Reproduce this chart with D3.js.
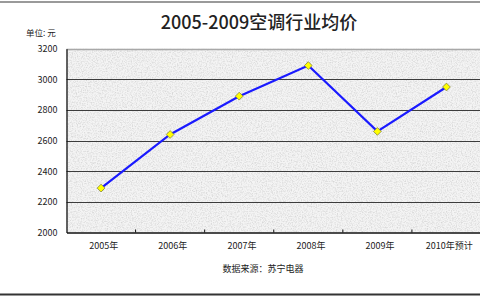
<!DOCTYPE html>
<html><head><meta charset="utf-8">
<script src="https://cdn.jsdelivr.net/npm/d3@7"></script>
<style>
html,body{margin:0;padding:0;background:#fff;}
svg{display:block;}
text{font-family:"Noto Sans CJK SC","DejaVu Sans",sans-serif;fill:#222;}
</style></head>
<body>
<script>
const categories = ["2005年","2006年","2007年","2008年","2009年","2010年预计"];
const values = [2290, 2640, 2890, 3090, 2660, 2950];
const yTicks = [2000, 2200, 2400, 2600, 2800, 3000, 3200];
const title = "2005-2009空调行业均价";
const unitLabel = "单位: 元";
const sourceLabel = "数据来源：苏宁电器";

const W = 480, H = 300;
const svg = d3.select("body").append("svg").attr("width", W).attr("height", H);

const defs = svg.append("defs");
const f = defs.append("filter").attr("id","grain").attr("x",0).attr("y",0).attr("width","100%").attr("height","100%");
f.append("feTurbulence").attr("type","fractalNoise").attr("baseFrequency",0.8).attr("numOctaves",2).attr("seed",3).attr("result","n");
f.append("feColorMatrix").attr("in","n").attr("type","matrix")
  .attr("values","0 0 0 0 0.6  0 0 0 0 0.6  0 0 0 0 0.6  0 0 0 -1.6 0.95").attr("result","c");
f.append("feComposite").attr("in","c").attr("in2","SourceGraphic").attr("operator","in");

const x0 = 66.5, x1 = 481, yTop = 48.7, yBot = 232.5;
const x = d3.scaleBand().domain(categories).range([x0, x1]);
const y = d3.scaleLinear().domain([2000, 3200]).range([yBot, yTop]);

// outer frame lines
svg.append("line").attr("x1",0).attr("x2",W).attr("y1",2).attr("y2",2).attr("stroke","#9a9a9a").attr("stroke-width",2);
svg.append("line").attr("x1",0).attr("x2",W).attr("y1",294.5).attr("y2",294.5).attr("stroke","#333").attr("stroke-width",2);

// plot background
svg.append("rect").attr("x",x0).attr("y",yTop).attr("width",x1-x0).attr("height",yBot-yTop).attr("fill","#f4f4f4");
svg.append("rect").attr("x",x0).attr("y",yTop).attr("width",x1-x0).attr("height",yBot-yTop).attr("fill","#f4f4f4").attr("filter","url(#grain)");

// gridlines
svg.append("g").selectAll("line").data(yTicks.filter(d => d > 2000)).join("line")
  .attr("x1", x0).attr("x2", x1)
  .attr("y1", d => Math.round(y(d)) + 0.5).attr("y2", d => Math.round(y(d)) + 0.5)
  .attr("stroke", d => d === 3200 ? "#a8a8a8" : "#3c3c3c").attr("stroke-width", d => d === 3200 ? 1.5 : 1);

// y axis
const yAxis = svg.append("g").attr("transform", `translate(${x0},0)`)
  .call(d3.axisLeft(y).tickValues(yTicks).tickSize(0).tickPadding(9).tickFormat(d3.format("d")));
yAxis.select(".domain").attr("stroke","#111").attr("stroke-width",1.3);
yAxis.selectAll("text").attr("font-size",9).attr("fill","#222");

// x axis
const xAxis = svg.append("g").attr("transform", `translate(0,${yBot})`)
  .call(d3.axisBottom(x).tickSize(0).tickPadding(10));
xAxis.select(".domain").attr("stroke","#111").attr("stroke-width",1.3);
xAxis.selectAll("text").attr("font-size",9).attr("fill","#222").attr("dx", "0.3em");
svg.append("g").selectAll("line").data(categories.slice(1)).join("line")
  .attr("x1", d => x(d)).attr("x2", d => x(d)).attr("y1", yBot - 3).attr("y2", yBot)
  .attr("stroke","#111");

// line
const line = d3.line().x((d,i) => x(categories[i]) + x.bandwidth()/2).y(d => y(d));
svg.append("path").datum(values).attr("d", line).attr("fill","none").attr("stroke","#1a1aff").attr("stroke-width",2.2);

// markers (square diamonds)
svg.append("g").selectAll("path").data(values).join("path")
  .attr("d", d3.symbol().type(d3.symbolSquare).size(30))
  .attr("transform", (d,i) => `translate(${x(categories[i]) + x.bandwidth()/2},${y(d)}) rotate(45)`)
  .attr("fill","#ffff00").attr("stroke","#8a8a40").attr("stroke-width",0.8);

// texts
svg.append("text").attr("x", 259).attr("y", 29).attr("text-anchor","middle")
  .attr("font-size",18).attr("font-weight",500).attr("fill","#111").text(title);
svg.append("text").attr("x", 26).attr("y", 36).attr("font-size",8.5).attr("fill","#222").text(unitLabel);
svg.append("text").attr("x", 263).attr("y", 272).attr("text-anchor","middle").attr("font-size",9).attr("fill","#222").text(sourceLabel);
</script>
</body></html>
